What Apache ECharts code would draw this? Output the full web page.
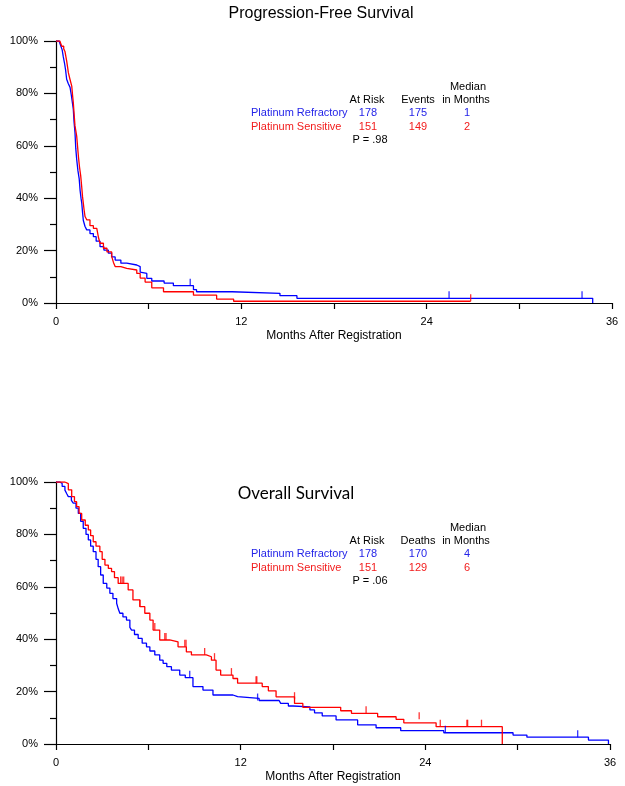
<!DOCTYPE html>
<html>
<head>
<meta charset="utf-8">
<script src="https://cdn.jsdelivr.net/npm/echarts@6/dist/echarts.min.js"></script>
<style>
html,body{margin:0;padding:0;background:#fff;}
#chart{width:625px;height:786px;}
</style>
</head>
<body>
<div id="chart"></div>
<script>
// ---------- data ----------
const xTicks = [0, 12, 24, 36];
const yTickLabels = ['0%', '20%', '40%', '60%', '80%', '100%'];
const groupNames = ['Platinum Refractory', 'Platinum Sensitive'];

// Progression-free survival: [months, survival %]
const pfsRefractory = [[0,100],[0.2,99.4],[0.3,98.3],[0.4,96.6],[0.47,94],[0.55,91.6],[0.62,89],[0.69,85.4],[0.8,83.7],[0.91,82.3],[1.0,79],[1.06,76.5],[1.12,74],[1.17,69],[1.23,65],[1.28,59],[1.34,54.8],[1.42,50.5],[1.5,47.5],[1.56,43],[1.62,40],[1.67,38],[1.72,34.5],[1.77,31.5],[1.88,29.2],[1.99,27.9],[2.2,26.5],[2.42,25.3],[2.6,23.6],[2.85,21.5],[3.1,20.2],[3.39,19],[3.6,17.6],[3.83,16.4],[4.2,15.2],[4.58,14.5],[5.23,13.9],[5.45,11.8],[5.56,11.3],[5.88,9.4],[6.2,8.4],[7.0,7.6],[7.6,6.6],[8.9,5.1],[9.1,4.3],[11.4,3.7],[14.5,2.8],[15.6,1.8],[34.75,0]];
const pfsRefractoryCensor = [[8.69,6.6],[25.45,1.8],[34.06,1.8]];
const pfsSensitive = [[0,100],[0.25,99.3],[0.37,98],[0.5,97],[0.58,96],[0.64,94],[0.69,92.4],[0.75,90],[0.8,87.9],[0.9,85.5],[1.02,82.8],[1.07,79.5],[1.12,76.5],[1.18,71.5],[1.23,67.6],[1.34,63.7],[1.4,59.5],[1.45,56],[1.52,52],[1.6,48.5],[1.67,44],[1.72,40.5],[1.77,38],[1.82,35.5],[1.88,33],[2.0,31.7],[2.2,29.5],[2.42,28.5],[2.64,27.9],[2.75,25],[2.85,22.8],[3.07,20.9],[3.3,19.5],[3.61,17.7],[3.72,15.5],[3.83,13.9],[4.2,13.2],[4.58,12.6],[5.23,11.3],[5.45,9.5],[5.77,8],[6.2,5.8],[6.96,4.3],[8.9,3.0],[10.4,1.5],[11.5,0.66],[26.85,0.66]];
const pfsSensitiveCensor = [[26.85,0.66]];

// Overall survival: [months, survival %]
const osRefractory = [[0,100],[0.26,99.4],[0.4,98.3],[0.58,96.9],[0.7,95.5],[0.8,94.4],[1.0,93],[1.12,91.9],[1.3,90],[1.45,88],[1.6,85],[1.77,82.3],[1.95,80],[2.1,77.9],[2.25,75.5],[2.42,73.4],[2.6,70.5],[2.74,67.7],[2.9,64.5],[3.07,61.3],[3.3,59.5],[3.5,57.5],[3.7,55.5],[3.94,53.7],[4.05,51.5],[4.15,49.9],[4.35,48.5],[4.58,47.3],[4.8,44.5],[4.91,43.5],[5.1,41.8],[5.34,40.3],[5.6,38.5],[5.88,37.1],[6.1,35.5],[6.42,34],[6.74,32],[6.96,30.8],[7.2,29.5],[7.5,28.2],[8.04,26.3],[8.4,25.3],[8.9,21.9],[9.55,20.6],[10.2,18.7],[11.5,18.1],[11.8,17.4],[13.2,16.6],[14.5,16.2],[14.6,15.5],[15.1,14.5],[15.4,14.2],[16.5,13],[16.8,11.9],[17.3,10.7],[18.2,9.2],[19.6,7.3],[20.8,6.2],[22.4,5.1],[25.2,4.3],[29.7,3.4],[30.6,2.6],[34.6,1.5],[35.9,0]];
const osRefractoryCensor = [[8.69,25.3],[13.1,16.6],[25.3,4.3],[33.9,2.6]];
const osSensitive = [[0,100],[0.58,99.4],[0.8,97],[1.02,94.4],[1.2,92.5],[1.34,90.6],[1.5,88],[1.67,85.5],[1.9,83.5],[2.1,81.7],[2.25,79.5],[2.42,77.2],[2.6,75.5],[2.85,73.4],[3.0,70.5],[3.18,68.3],[3.4,67],[3.61,65.8],[3.8,63.5],[4.04,61.3],[4.69,58.8],[5.0,55],[5.45,52.4],[5.77,49.9],[6.1,47.3],[6.31,43.5],[6.74,39.7],[7.39,39],[7.93,37.1],[8.47,35.2],[8.8,34],[9.77,33.3],[10.1,32],[10.4,28.2],[10.7,26.3],[11.5,25],[11.8,23.2],[13.4,21.9],[13.8,20.3],[14.3,18],[15.5,15.5],[16.04,14],[18.5,12.7],[19.2,11.7],[20.9,10.4],[22.1,9.4],[22.6,8.1],[24.7,6.6],[29.0,0]];
const osSensitiveCensor = [[4.2,61.3],[4.3,61.3],[4.4,61.3],[5.45,52.4],[6.42,43.5],[7.07,39.7],[7.15,39.7],[8.37,37.1],[8.45,37.1],[9.66,34],[10.3,32],[11.4,26.3],[13.0,23.2],[13.05,23.2],[15.5,17.1],[20.15,11.7],[23.6,9.4],[24.97,6.6],[26.7,6.6],[26.75,6.6],[27.65,6.6]];

// summary tables
const pfsTable = { header: ['At Risk', 'Events', 'in Months'], atRisk: [178, 151], events: [175, 149], median: [1, 2], p: 'P = .98' };
const osTable = { header: ['At Risk', 'Deaths', 'in Months'], atRisk: [178, 151], events: [170, 129], median: [4, 6], p: 'P = .06' };

// ---------- styles ----------
const BLUE = '#0000ff', RED = '#ff0000';
const BLUE_T = '#2424e8', RED_T = '#f21c1c';
const FONT = 'Liberation Sans, Arial, sans-serif';

function xAxis(gi) {
  return {
    gridIndex: gi, type: 'value', min: 0, max: 36, interval: 6,
    name: 'Months After Registration', nameLocation: 'middle', nameGap: 27,
    nameTextStyle: { fontFamily: FONT, fontSize: 12, color: '#000' },
    axisLine: { show: true, lineStyle: { color: '#000', width: 1.2 } },
    axisTick: { show: true, length: 6, lineStyle: { color: '#000', width: 1.2 } },
    axisLabel: { margin: 13, fontFamily: FONT, fontSize: 11, color: '#000',
      formatter: v => (xTicks.indexOf(v) >= 0 ? String(v) : '') },
    splitLine: { show: false }
  };
}
function yAxis(gi) {
  return {
    gridIndex: gi, type: 'value', min: 0, max: 100, interval: 20,
    axisLine: { show: true, lineStyle: { color: '#000', width: 1.2 } },
    axisTick: { show: true, length: 12, lineStyle: { color: '#000', width: 1.2 } },
    minorTick: { show: true, splitNumber: 2, length: 6, lineStyle: { color: '#000', width: 1.2 } },
    axisLabel: { margin: 18, fontFamily: FONT, fontSize: 11, color: '#000',
      formatter: v => yTickLabels[Math.round(v / 20)] },
    splitLine: { show: false }
  };
}
function curve(data, color, gi) {
  return { type: 'line', xAxisIndex: gi, yAxisIndex: gi, data: data, step: 'end',
    showSymbol: false, symbol: 'none', lineStyle: { color: color, width: 1.3 }, animation: false, silent: true };
}
function censor(data, color, gi) {
  return { type: 'scatter', xAxisIndex: gi, yAxisIndex: gi, data: data,
    symbol: 'rect', symbolSize: [1.3, 7], symbolOffset: [0, -3.5],
    itemStyle: { color: color }, animation: false, silent: true, z: 3 };
}
function txt(x, y, s, color, align, size, family) {
  return { type: 'text', x: x, y: y, silent: true,
    style: { text: s, fill: color || '#000', align: align || 'left', verticalAlign: 'middle',
      font: (size || 11) + 'px ' + (family || FONT) } };
}
function table(t, top) {
  const g = [];
  g.push(txt(468, top, 'Median', '#000', 'center'));
  g.push(txt(367, top + 13, t.header[0], '#000', 'center'));
  g.push(txt(418, top + 13, t.header[1], '#000', 'center'));
  g.push(txt(466, top + 13, t.header[2], '#000', 'center'));
  const cols = [BLUE_T, RED_T];
  for (let i = 0; i < 2; i++) {
    const y = top + 26 + i * 13.5;
    g.push(txt(251, y, groupNames[i], cols[i], 'left'));
    g.push(txt(368, y, String(t.atRisk[i]), cols[i], 'center'));
    g.push(txt(418, y, String(t.events[i]), cols[i], 'center'));
    g.push(txt(467, y, String(t.median[i]), cols[i], 'center'));
  }
  g.push(txt(370, top + 53, t.p, '#000', 'center'));
  return g;
}

const chart = echarts.init(document.getElementById('chart'), null, { renderer: 'canvas' });
chart.setOption({
  backgroundColor: '#fff',
  animation: false,
  grid: [
    { left: 56, top: 41, width: 556, height: 262, containLabel: false },
    { left: 56, top: 482, width: 554, height: 262, containLabel: false }
  ],
  xAxis: [xAxis(0), xAxis(1)],
  yAxis: [yAxis(0), yAxis(1)],
  series: [
    curve(pfsRefractory, BLUE, 0), curve(pfsSensitive, RED, 0),
    censor(pfsRefractoryCensor, BLUE, 0), censor(pfsSensitiveCensor, RED, 0),
    curve(osRefractory, BLUE, 1), curve(osSensitive, RED, 1),
    censor(osRefractoryCensor, BLUE, 1), censor(osSensitiveCensor, RED, 1)
  ],
  graphic: [].concat(
    [txt(321, 14, 'Progression-Free Survival', '#000', 'center', 16)],
    table(pfsTable, 87),
    [txt(296, 494, 'Overall Survival', '#000', 'center', 17, 'Lato, "Open Sans", sans-serif')],
    table(osTable, 528)
  )
});
</script>
</body>
</html>
